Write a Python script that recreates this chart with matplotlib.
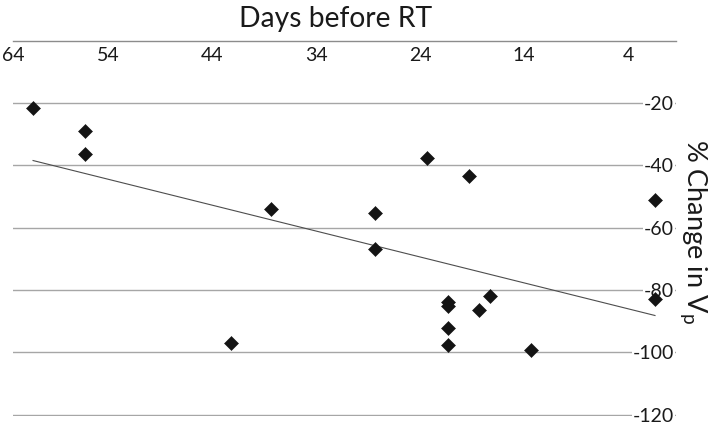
import numpy as np
import matplotlib.pyplot as plt

### Data ###

# days before RT and % change in Vp
days = [61.2, 56.2, 56.2, 38.3, 42.2, 23.3, 19.3, 28.3, 28.3,
        21.3, 21.3, 17.3, 18.3, 21.3, 21.3, 13.3, 1.4, 1.4]
change = [-21.5, -28.9, -36.4, -53.9, -97.1, -37.6, -43.5, -55.2, -67.0,
          -83.8, -85.0, -81.9, -86.3, -92.1, -97.5, -99.2, -51.0, -82.9]

x_ticks = [64, 54, 44, 34, 24, 14, 4]
y_ticks = [-20, -40, -60, -80, -100, -120]

### Style ###

plt.rcParams['font.family'] = ['Lato', 'DejaVu Sans']
txt = '#1a1a1a'
grid = '#a6a6a6'

x_left, x_right = 63.13, -0.62   # reversed axis, as in the original

### Plot ###

fig = plt.figure(figsize=(7.12, 4.24), dpi=100)
ax = fig.add_axes([13/712, 8/424, 663/712, 375.5/424])

ax.set_xlim(x_left, x_right)
ax.set_ylim(-120.4, 0)
ax.set_axisbelow(True)

# trend line (least squares, like the spreadsheet trendline)
k, b = np.polyfit(days, change, 1)
xs = np.array([min(days), max(days)])
ax.plot(xs, k*xs + b, color='#4d4d4d', lw=0.8, zorder=2)

ax.plot(days, change, ls='none', marker='D', ms=7.6, color='#141414',
        mec='#141414', mew=0.4, zorder=3)

# axis cosmetics
for s in ['left', 'right', 'bottom']:
    ax.spines[s].set_visible(False)
ax.spines['top'].set_color('#8c8c8c')
ax.spines['top'].set_linewidth(1.0)

xpos = np.clip(x_ticks, x_right, x_left)
ax.set_xticks(xpos, [str(t) for t in x_ticks], va='top')
ax.xaxis.tick_top()
ax.tick_params(axis='x', length=0, pad=-4.5, labelsize=14, labelcolor=txt)

ax.yaxis.tick_right()
ax.set_yticks(y_ticks, [str(t) for t in y_ticks], ha='right',
              bbox=dict(facecolor='white', edgecolor='none', pad=0.5))
ax.tick_params(axis='y', length=0, pad=-1.5, labelsize=14, labelcolor=txt)
ax.yaxis.grid(True, color=grid, lw=1.0)

ax.set_xlabel('Days before RT', fontsize=20.3, color=txt)
ax.xaxis.set_label_position('top')
ax.xaxis.set_label_coords((336 - 13)/663, (416 - 19)/375.5)
ax.xaxis.label.set_va('center')

ax.set_ylabel('% Change in V$_\\mathregular{p}$', fontsize=19.5, color=txt,
              rotation=270, ha='center', va='center')
ax.yaxis.set_label_position('right')
ax.yaxis.set_label_coords((694 - 13)/663, (416 - 232)/375.5)
ax.yaxis.label.set_va('center')
ax.yaxis.label.set_ha('center')

fig.savefig('out.png', dpi=100)
